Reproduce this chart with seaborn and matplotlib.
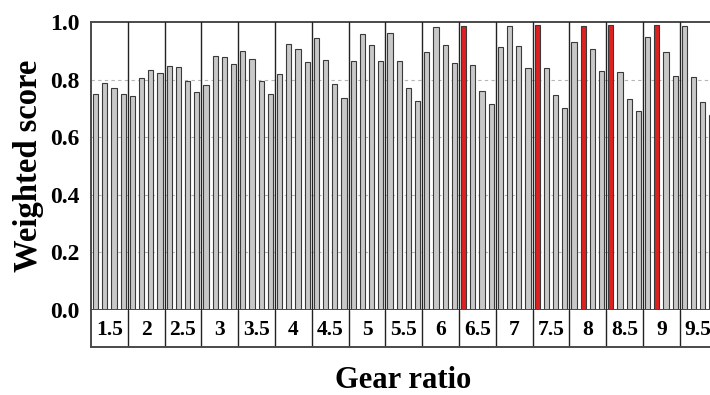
import numpy as np
import pandas as pd
import seaborn as sns
import matplotlib.pyplot as plt

# Gear ratio groups (4 bars per group)
gear_ratios = ['1.5', '2', '2.5', '3', '3.5', '4', '4.5', '5', '5.5',
               '6', '6.5', '7', '7.5', '8', '8.5', '9', '9.5']
scores = [
    0.749, 0.788, 0.772, 0.750,   # 1.5
    0.742, 0.804, 0.832, 0.823,   # 2
    0.846, 0.843, 0.795, 0.757,   # 2.5
    0.780, 0.881, 0.879, 0.854,   # 3
    0.898, 0.872, 0.795, 0.749,   # 3.5
    0.819, 0.925, 0.907, 0.862,   # 4
    0.943, 0.867, 0.784, 0.735,   # 4.5
    0.863, 0.957, 0.919, 0.863,   # 5
    0.961, 0.863, 0.772, 0.725,   # 5.5
    0.895, 0.982, 0.919, 0.859,   # 6
    0.987, 0.852, 0.760, 0.714,   # 6.5
    0.913, 0.987, 0.917, 0.840,   # 7
    0.988, 0.839, 0.745, 0.700,   # 7.5
    0.931, 0.987, 0.905, 0.829,   # 8
    0.991, 0.825, 0.733, 0.691,   # 8.5
    0.948, 0.988, 0.897, 0.813,   # 9
    0.985, 0.810, 0.721, 0.677,   # 9.5
]
best_bars = [40, 48, 53, 56, 61]  # bars drawn in red

bars_per_group = 4
df = pd.DataFrame({'bar': [str(i) for i in range(len(scores))], 'score': scores})
df['best'] = ['best' if i in best_bars else 'other' for i in range(len(scores))]

sns.set_style('white')
plt.rcParams['font.family'] = ['Liberation Serif', 'DejaVu Serif']
plt.rcParams['font.weight'] = 'bold'
plt.rcParams['text.color'] = 'black'
plt.rcParams['ytick.color'] = 'black'

fig = plt.figure(figsize=(7.10, 3.95), dpi=100)
ax = fig.add_axes([91/710, 85/395, 619/710, 288/395])
ax_lab = fig.add_axes([91/710, 48/395, 619/710, 37/395])

sns.barplot(data=df, x='bar', y='score', hue='best', order=df['bar'],
            palette={'best': '#ff0000', 'other': '#c8c8c8'},
            dodge=False, width=0.55, edgecolor='#3a3a3a', linewidth=0.8,
            legend=False, ax=ax)

n_groups = len(gear_ratios)
xmax = -0.5 + 619 / 9.2
ax.set_xlim(-0.5, xmax)
ax.set_ylim(0, 1.0)
ax.set_yticks(np.arange(0, 1.01, 0.2))
ax.set_yticklabels([f'{v:.1f}' for v in np.arange(0, 1.01, 0.2)], fontsize=17,
                   fontweight='bold', color='black')
ax.tick_params(axis='y', length=0, pad=8)
ax.set_xticks([])
ax.set_xlabel('')
ax.set_ylabel('')
for y in [0.2, 0.4, 0.6, 0.8]:
    ax.axhline(y, color='#b5b5b5', lw=0.8, ls=(0, (3, 3)), zorder=0)
for s in ['left', 'top', 'bottom']:
    ax.spines[s].set_color('#4a4a4a')
    ax.spines[s].set_linewidth(1.4)
ax.spines['right'].set_visible(False)

# group separators
for i in range(1, n_groups):
    x = -0.5 + bars_per_group * i
    ax.axvline(x, color='#222222', lw=1.0, zorder=3)
    ax_lab.axvline(x, color='#222222', lw=1.0)

# label box below the axis
ax_lab.set_xlim(-0.5, xmax)
ax_lab.set_ylim(0, 1)
ax_lab.set_xticks([])
ax_lab.set_yticks([])
for s in ['left', 'bottom']:
    ax_lab.spines[s].set_color('#4a4a4a')
    ax_lab.spines[s].set_linewidth(1.4)
ax_lab.spines['top'].set_visible(False)
ax_lab.spines['right'].set_visible(False)
for i, g in enumerate(gear_ratios):
    ax_lab.text(-0.5 + bars_per_group * i + bars_per_group / 2, 0.45, g,
                ha='center', va='center', fontsize=15.5, fontweight='bold',
                color='black', clip_on=False)

fig.text(28/710, 1 - 166/395, 'Weighted score', rotation=90, ha='center', va='center',
         fontsize=23.5, fontweight='bold', color='black')
fig.text(403/710, 1 - 380/395, 'Gear ratio', ha='center', va='center',
         fontsize=22, fontweight='bold', color='black')

fig.savefig('out.png', dpi=100)
